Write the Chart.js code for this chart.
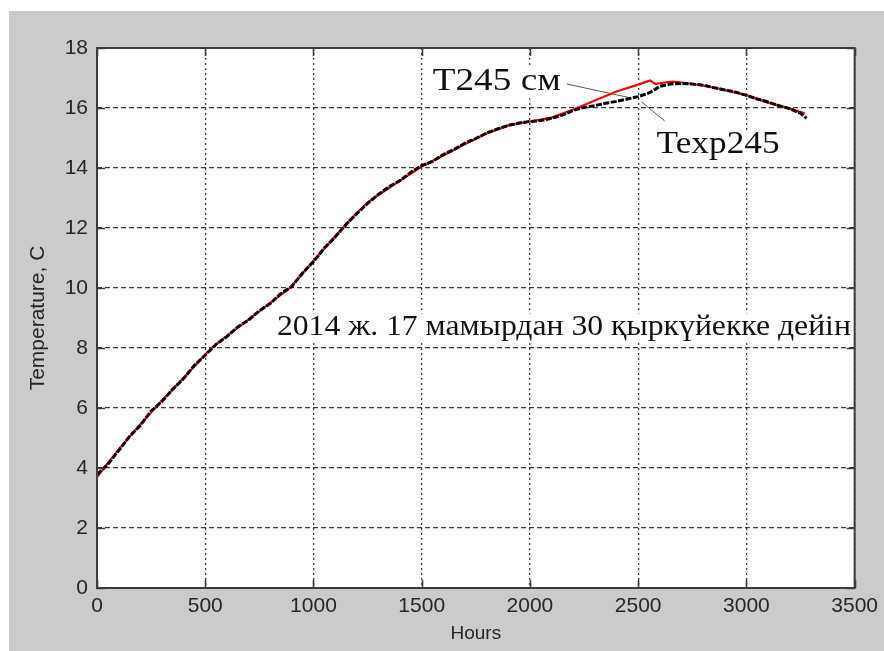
<!DOCTYPE html>
<html>
<head>
<meta charset="utf-8">
<script src="https://cdn.jsdelivr.net/npm/chart.js@4.4.1/dist/chart.umd.min.js"></script>
<style>
  html, body { margin: 0; padding: 0; background: #ffffff; overflow: hidden; }
  #wrap { width: 884px; height: 651px; position: relative; }
</style>
</head>
<body>
<div id="wrap"><canvas id="c" width="884" height="651"></canvas></div>
<script>
// Modelled temperature at 245 cm (T245)
const hoursModel = [0, 100, 200, 268, 300, 400, 500, 529, 600, 700, 800, 891, 1000, 1100, 1136, 1200, 1250, 1300, 1400, 1500, 1600, 1700, 1800, 1900, 2000, 2100, 2200, 2300, 2400, 2500, 2555, 2580, 2620, 2660, 2700, 2800, 2900, 3000, 3100, 3200, 3270];
const tempModel  = [3.70, 4.62, 5.45, 6.00, 6.25, 7.00, 7.78, 8.00, 8.40, 8.95, 9.50, 10.00, 10.90, 11.72, 12.00, 12.50, 12.85, 13.10, 13.58, 14.05, 14.42, 14.80, 15.15, 15.42, 15.55, 15.68, 15.95, 16.25, 16.55, 16.78, 16.92, 16.80, 16.85, 16.88, 16.85, 16.75, 16.60, 16.43, 16.18, 15.98, 15.82];

// Measured temperature at 245 cm (Texp245)
const hoursExp = [0, 50, 100, 150, 200, 250, 300, 350, 400, 450, 500, 550, 600, 650, 700, 750, 800, 850, 900, 950, 1000, 1050, 1100, 1150, 1200, 1250, 1300, 1350, 1400, 1450, 1500, 1550, 1600, 1650, 1700, 1750, 1800, 1850, 1900, 1950, 2000, 2050, 2100, 2150, 2200, 2250, 2300, 2350, 2400, 2450, 2500, 2550, 2600, 2650, 2700, 2750, 2800, 2850, 2900, 2950, 3000, 3050, 3100, 3150, 3200, 3250, 3278];
const tempExp  = [3.78, 4.12, 4.58, 5.05, 5.42, 5.90, 6.22, 6.63, 6.98, 7.42, 7.76, 8.12, 8.38, 8.70, 8.93, 9.24, 9.48, 9.82, 10.05, 10.50, 10.88, 11.33, 11.70, 12.12, 12.48, 12.82, 13.12, 13.38, 13.58, 13.86, 14.08, 14.22, 14.45, 14.62, 14.83, 14.98, 15.17, 15.30, 15.42, 15.50, 15.55, 15.58, 15.66, 15.76, 15.92, 16.02, 16.08, 16.16, 16.22, 16.30, 16.38, 16.50, 16.72, 16.80, 16.82, 16.80, 16.76, 16.68, 16.60, 16.53, 16.42, 16.30, 16.20, 16.08, 15.98, 15.82, 15.66];

const xTicks = [0, 500, 1000, 1500, 2000, 2500, 3000, 3500];
const yTicks = [0, 2, 4, 6, 8, 10, 12, 14, 16, 18];

const xTitle = 'Hours';
const yTitle = 'Temperature, C';
const modelLabel = 'T245 см';
const expLabel = 'Texp245';
const periodNote = '2014 ж. 17 мамырдан 30 қыркүйекке дейін';

const toPoints = (xs, ys) => xs.map((x, i) => ({ x: x, y: ys[i] }));

// Figure background: white margin, grey figure panel
const figureBackground = {
  id: 'figureBackground',
  beforeDraw(chart) {
    const ctx = chart.ctx;
    ctx.save();
    ctx.fillStyle = '#ffffff';
    ctx.fillRect(0, 0, chart.width, chart.height);
    ctx.fillStyle = '#cbcbcb';
    ctx.fillRect(9, 11, chart.width - 9, chart.height - 11);
    const a = chart.chartArea;
    ctx.fillStyle = '#ffffff';
    ctx.fillRect(a.left, a.top, a.right - a.left, a.bottom - a.top);
    ctx.restore();
  }
};

// Text labels inside the axes, with their leader lines
const annotations = {
  id: 'annotations',
  beforeDatasetsDraw(chart) {
    const ctx = chart.ctx;
    const xs = chart.scales.x, ys = chart.scales.y;
    const px = v => xs.getPixelForValue(v);
    const py = v => ys.getPixelForValue(v);
    // anchor (hours, temperature) of the text's left baseline, font size, drawn width
    const items = [
      { text: modelLabel, h: 1551, t: 16.6, size: 32, width: 128 },
      { text: expLabel, h: 2585, t: 14.5, size: 32, width: 123 },
      { text: periodNote, h: 831, t: 8.43, size: 30, width: 574 }
    ];
    ctx.save();
    items.forEach(it => {
      ctx.font = it.size + 'px "Liberation Serif", "Times New Roman", serif';
      const w = ctx.measureText(it.text).width;
      const sx = it.width / w;
      const x = px(it.h), y = py(it.t);
      ctx.fillStyle = '#ffffff';
      ctx.fillRect(x - 3, y - it.size * 0.72, Math.min(it.width + 6, chart.chartArea.right - x - 1), it.size * 0.98);
      ctx.save();
      ctx.translate(x, y);
      ctx.scale(sx, 1);
      ctx.fillStyle = '#111111';
      ctx.textBaseline = 'alphabetic';
      ctx.textAlign = 'left';
      ctx.fillText(it.text, 0, 0);
      ctx.restore();
    });
    // leader lines
    ctx.strokeStyle = '#555555';
    ctx.lineWidth = 1;
    ctx.beginPath();
    ctx.moveTo(px(2170), py(16.8));
    ctx.lineTo(px(2470), py(16.33));
    ctx.moveTo(px(2516), py(16.2));
    ctx.lineTo(px(2622), py(15.57));
    ctx.stroke();
    ctx.restore();
  }
};

// Axes box with inward tick marks
const axesBox = {
  id: 'axesBox',
  afterDatasetsDraw(chart) {
    const ctx = chart.ctx;
    const a = chart.chartArea;
    const xs = chart.scales.x, ys = chart.scales.y;
    const len = 8;
    ctx.save();
    ctx.strokeStyle = '#3c3c3c';
    ctx.lineWidth = 1.6;
    ctx.beginPath();
    xTicks.forEach(v => {
      const x = Math.round(xs.getPixelForValue(v)) + 0.5;
      ctx.moveTo(x, a.bottom); ctx.lineTo(x, a.bottom - len);
      ctx.moveTo(x, a.top); ctx.lineTo(x, a.top + len);
    });
    yTicks.forEach(v => {
      const y = Math.round(ys.getPixelForValue(v)) + 0.5;
      ctx.moveTo(a.left, y); ctx.lineTo(a.left + len, y);
      ctx.moveTo(a.right, y); ctx.lineTo(a.right - len, y);
    });
    ctx.stroke();
    ctx.lineWidth = 2;
    ctx.strokeRect(a.left, a.top, a.right - a.left, a.bottom - a.top);
    ctx.restore();
  }
};

const tickFont = { family: '"Liberation Sans", Arial, sans-serif', size: 21 };
const titleFont = { family: '"Liberation Sans", Arial, sans-serif', size: 19 };

new Chart(document.getElementById('c'), {
  type: 'line',
  data: {
    datasets: [
      {
        label: expLabel,
        data: toPoints(hoursExp, tempExp),
        borderColor: '#000000',
        borderWidth: 3,
        borderDash: [6, 1.5],
        pointRadius: 0,
        tension: 0,
        fill: false
      },
      {
        label: modelLabel,
        data: toPoints(hoursModel, tempModel),
        borderColor: '#ff0000',
        borderWidth: 2.2,
        pointRadius: 0,
        tension: 0,
        fill: false
      }
    ]
  },
  options: {
    responsive: false,
    animation: false,
    devicePixelRatio: 1,
    parsing: false,
    layout: { padding: { left: 0, top: 48, right: 29, bottom: 0 } },
    plugins: {
      legend: { display: false },
      tooltip: { enabled: false },
      title: { display: false }
    },
    scales: {
      x: {
        type: 'linear',
        min: 0,
        max: 3500,
        afterBuildTicks: s => { s.ticks = xTicks.map(v => ({ value: v })); },
        afterFit: s => { s.height = 63; },
        ticks: { font: tickFont, color: '#262626', padding: 6, maxRotation: 0, autoSkip: false, callback: v => String(v) },
        grid: { color: 'rgba(25,25,25,0.85)', lineWidth: 1.3, drawTicks: false },
        border: { display: false, dash: [2, 3] },
        title: { display: true, text: xTitle, font: titleFont, color: '#262626', padding: { top: 0, bottom: 6 } }
      },
      y: {
        type: 'linear',
        min: 0,
        max: 18,
        afterBuildTicks: s => { s.ticks = yTicks.map(v => ({ value: v })); },
        afterFit: s => { s.width = 97; },
        ticks: { font: tickFont, color: '#262626', padding: 9, autoSkip: false, callback: v => String(v) },
        grid: { color: 'rgba(25,25,25,0.85)', lineWidth: 1.3, drawTicks: false },
        border: { display: false, dash: [5, 3] },
        title: { display: true, text: yTitle, font: { family: titleFont.family, size: 21 }, color: '#262626', padding: { top: 26, bottom: 0 } }
      }
    }
  },
  plugins: [figureBackground, annotations, axesBox]
});
</script>
</body>
</html>
